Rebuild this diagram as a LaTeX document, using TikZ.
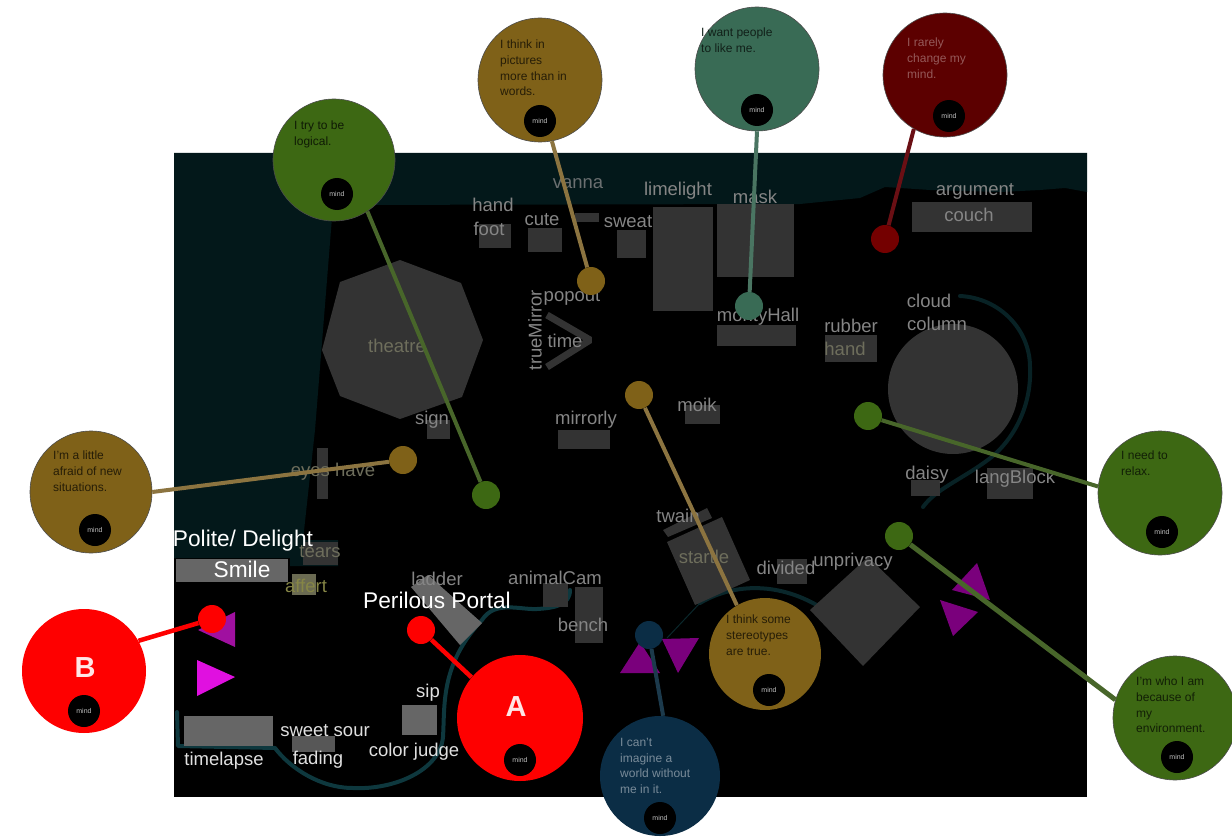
\documentclass[tikz,border=0pt]{standalone}
\usepackage{fontspec}
\setmainfont{Liberation Sans}
\definecolor{tealbg}{HTML}{03181A}
\definecolor{boxd}{HTML}{333333}
\definecolor{boxm}{HTML}{666666}
\definecolor{lab}{HTML}{858585}
\definecolor{labd}{HTML}{6E6E5C}
\definecolor{curvec}{HTML}{0E383E}
\definecolor{gold}{HTML}{7F6118}
\definecolor{goldl}{HTML}{8C7440}
\definecolor{grn}{HTML}{3D6813}
\definecolor{grnl}{HTML}{48662A}
\definecolor{sea}{HTML}{396B55}
\definecolor{seal}{HTML}{4A7562}
\definecolor{wine}{HTML}{5C0000}
\definecolor{winel}{HTML}{6A0F14}
\definecolor{navy}{HTML}{0B2D45}
\definecolor{navyl}{HTML}{1C3A4C}
\definecolor{rd}{HTML}{FE0000}
\definecolor{purp}{HTML}{7A007C}
\definecolor{purpb}{HTML}{A010A0}
\definecolor{magen}{HTML}{E010E0}
\tikzset{
 box/.style={fill=boxd,draw=none},
 boxmid/.style={fill=boxm,draw=none},
 lbl/.style={font=\fontsize{18.5}{20}\selectfont,text=lab,inner sep=0pt},
 lbld/.style={lbl,text=labd},
 lblw/.style={font=\fontsize{18.5}{20}\selectfont,text=black!12,inner sep=0pt},
 big/.style={font=\fontsize{22.7}{24}\selectfont,text=white,inner sep=0pt},
 bubble/.style={circle,minimum size=#1,inner sep=0pt,draw=black!70,line width=.6pt},
 dot/.style={circle,minimum size=28pt,inner sep=0pt},
 mindc/.style={circle,fill=black,minimum size=32pt,inner sep=0pt,text=white!75!black,font=\fontsize{7}{8}\selectfont},
 say/.style={anchor=north west,align=left,inner sep=0pt,font=\fontsize{12}{15.6}\selectfont},
 conn/.style={line width=#1},
 conn/.default=4pt,
 curve/.style={draw=curvec,line width=4pt,line cap=round,line join=round},
}
\begin{document}
\begin{tikzpicture}[x=1pt,y=-1pt]
\useasboundingbox (0,0) rectangle (1232,840);
\fill[white] (0,0) rectangle (1232,840);
\fill[black] (174,153) rectangle (1087,797);
\fill[tealbg] (174,153) -- (1087,153) -- (1087,192) -- (1065,188) -- (1040,190) -- (1000,192) -- (930,190) -- (885,187) -- (860,198) -- (800,204) -- (333,205) -- (315,430) -- (303,540) -- (338,540) -- (338,566) -- (290,566) -- (290,558) -- (174,558) -- cycle;
% curves
\draw[curve] (177,712) -- (178,746) -- (275,748) .. controls (290,768) and (320,788) .. (353,788) .. controls (395,790) and (440,770) .. (443,737) .. controls (445,705) and (440,665) .. (482,620) .. controls (495,600) and (520,610) .. (537,609) .. controls (555,608) and (570,605) .. (570,590);
\draw[curve,draw=curvec!70!black] (700,603) .. controls (730,585) and (775,580) .. (820,607);
\draw[draw=curvec!70!black,line width=1pt] (667,638) -- (700,603);
\draw[curve,draw=curvec!60!black] (960,296) .. controls (1000,298) and (1030,330) .. (1030,367) .. controls (1032,410) and (1010,445) .. (985,462) .. controls (960,480) and (935,490) .. (923,507);
% boxes
\fill[box] (479,224) rectangle (511,248);
\fill[box] (528,228) rectangle (562,252);
\fill[box] (575,213) rectangle (599,222);
\fill[box] (617,230) rectangle (646,258);
\fill[box] (653,207) rectangle (713,311);
\fill[box] (717,204) rectangle (794,277);
\fill[box] (717,325) rectangle (796,346);
\fill[box] (825,335) rectangle (877,362);
\fill[box] (912,202) rectangle (1032,232);
\fill[box] (685,405) rectangle (720,424);
\fill[box] (558,430) rectangle (610,449);
\fill[box] (427,420) rectangle (450,439);
\fill[box] (317,448) rectangle (328,499);
\fill[box] (400,260) -- (461,283) -- (483,340) -- (462,397) -- (400,419) -- (340,396) -- (322,350) -- (340,282) -- cycle;
\draw[boxd,line width=7pt,line join=bevel] (547,315) -- (590,340) -- (547,367);
\fill[box] (953,389) circle[radius=65];
\fill[box] (911,480) rectangle (940,496);
\fill[box] (987,468) rectangle (1033,499);
\fill[box] (663,530) -- (707,508) -- (712,518) -- (668,537) -- cycle;
\fill[box] (667,542) -- (722,517) -- (750,580) -- (695,605) -- cycle;
\fill[box] (777,559) rectangle (807,584);
\fill[box] (868,557) -- (920,607) -- (863,666) -- (810,610) -- cycle;
\fill[box] (303,542) rectangle (338,565);
\fill[boxm!80!olive] (292,574) rectangle (316,595);
\fill[boxmid] (176,559) rectangle (288,582);
\fill[boxmid] (411,587) -- (428,575) -- (482,623) -- (460,645) -- cycle;
\fill[box] (543,583) rectangle (568,607);
\fill[box] (575,587) rectangle (603,643);
\fill[boxm] (402,705) rectangle (437,735);
\fill[boxm] (184,716) rectangle (273,746);
\fill[boxm!85!black] (292,736) rectangle (335,752);
% triangles
\fill[purp] (620,673) -- (640,642) -- (660,673) -- cycle;
\fill[purp] (662,639) -- (699,638) -- (678,673) -- cycle;
\fill[purp] (977,563) -- (990,600) -- (952,590) -- cycle;
\fill[purp] (940,600) -- (978,612) -- (953,636) -- cycle;
\fill[purpb] (235,612) -- (235,647) -- (198,630) -- cycle;
\fill[magen] (197,660) -- (235,677) -- (197,696) -- cycle;
% labels
\node[lbl,text=lab!80!tealbg] (lvanna) at (578,184) {vanna};
\node[lbl] (lhand) at (493,205) {hand};
\node[lbl] (lfoot) at (489,229) {foot};
\node[lbl] (lcute) at (542,220) {cute};
\node[lbl] (lsweat) at (628,222) {sweat};
\node[lbl] (llime) at (678,191) {limelight};
\node[lbl] (lmask) at (755,197) {mask};
\node[lbl] (larg) at (975,191) {argument};
\node[lbl] (lcouch) at (969,215) {couch};
\node[lbl] (lpop) at (572,297) {popout};
\node[lbl,rotate=90] (ltrue) at (535,330) {trueMirror};
\node[lbl] (ltime) at (565,341) {time};
\node[lbld] (ltheatre) at (397,346) {theatre};
\node[lbl] (lsign) at (432,420) {sign};
\node[lbl] (lmirror) at (586,420) {mirrorly};
\node[lbl] (lmoik) at (697,405) {moik};
\node[lbl] (lrubber) at (851,326) {rubber};
\node[lbld] (lhand2) at (845,349) {hand};
\node[lbl] (lcloud) at (929,301) {cloud};
\node[lbl] (lcolumn) at (937,324) {column};
\node[lbl] (lmonty) at (758,317) {montyHall};
\node[lbl] (ldaisy) at (927,475) {daisy};
\node[lbl] (llang) at (1015,479) {langBlock};
\node[lbl] (ltwain) at (678,516) {twain};
\node[lbld] (lstartle) at (704,557) {startle};
\node[lbl] (ldivided) at (786,568) {divided};
\node[lbl] (lunpriv) at (853,562) {unprivacy};
\node[lbld] (leyes) at (333,472) {eyes have};
\node[lbld] (ltears) at (320,552) {tears};
\node[lbld,text=black!30!lab!75!yellow] (laffert) at (306,586) {affert};
\node[lbl] (lladder) at (437,579) {ladder};
\node[lbl] (lanimal) at (555,578) {animalCam};
\node[lbl] (lbench) at (583,625) {bench};
\node[lblw] (lsip) at (428,693) {sip};
\node[lblw] (lsweet) at (325,731) {sweet sour};
\node[lblw] (lfading) at (318,760) {fading};
\node[lblw] (ltimelapse) at (224,761) {timelapse};
\node[lblw] (lcolor) at (414,752) {color judge};
\node[big] (lpolite) at (243,541) {Polite/ Delight};
\node[big] (lsmile) at (242,569) {Smile};
\node[big] (lperil) at (437,600) {Perilous Portal};
% bubbles and dots
\node[bubble=122pt,fill=grn] (bLogic) at (334,160) {};
\node[bubble=124pt,fill=gold] (bPict) at (540,80) {};
\node[bubble=124pt,fill=sea] (bLike) at (757,69) {};
\node[bubble=124pt,fill=wine] (bRare) at (945,75) {};
\node[bubble=122pt,fill=gold] (bAfraid) at (91,492) {};
\node[bubble=124pt,fill=grn] (bRelax) at (1160,493) {};
\node[bubble=124pt,fill=grn] (bEnv) at (1175,718) {};
\node[bubble=112pt,fill=gold,draw=none] (bStereo) at (765,654) {};
\node[bubble=120pt,fill=navy,draw=none] (bWorld) at (660,776) {};
\node[bubble=126pt,fill=rd,draw=none] (bA) at (520,718) {};
\node[bubble=124pt,fill=rd,draw=none] (bB) at (84,671) {};
\node[dot,fill=grn] (dLogic) at (486,495) {};
\node[dot,fill=gold] (dPict) at (591,281) {};
\node[dot,fill=sea] (dLike) at (749,306) {};
\node[dot,fill=wine!85!red] (dRare) at (885,239) {};
\node[dot,fill=gold] (dAfraid) at (403,460) {};
\node[dot,fill=grn] (dRelax) at (868,416) {};
\node[dot,fill=grn] (dEnv) at (899,536) {};
\node[dot,fill=gold] (dStereo) at (639,395) {};
\node[dot,fill=navy] (dWorld) at (649,635) {};
\node[dot,fill=rd] (dA) at (421,630) {};
\node[dot,fill=rd] (dB) at (212,619) {};
% connectors
\draw[conn,grnl] (dLogic) -- (bLogic.-57);
\draw[conn,goldl] (dPict) -- (bPict.-79);
\draw[conn,seal] (dLike) -- (bLike.-90);
\draw[conn,winel] (dRare) -- (bRare.-120);
\draw[conn,goldl] (dAfraid) -- (bAfraid.0);
\draw[conn,grnl] (dRelax) -- (bRelax.174);
\draw[conn=5pt,grnl] (dEnv) -- (bEnv.163);
\draw[conn,goldl] (dStereo) -- (bStereo.120);
\draw[conn,navyl] (dWorld) -- (bWorld.87);
\draw[conn=4.5pt,rd] (dA) -- (bA.140);
\draw[conn=4.5pt,rd] (dB) -- (bB.29);
% bubble texts
\node[say,text=black!75!grn] (tLogic) at (294,121) {I try to be\\logical.};
\node[say,text=black!70!gold] (tPict) at (500,40) {I think in\\pictures\\more than in\\words.};
\node[say,text=black!70!sea] (tLike) at (701,28) {I want people\\to like me.};
\node[say,text=white!35!wine] (tRare) at (907,38) {I rarely\\change my\\mind.};
\node[say,text=black!70!gold] (tAfraid) at (53,451) {I'm a little\\afraid of new\\situations.};
\node[say,text=black!70!grn] (tRelax) at (1121,451) {I need to\\relax.};
\node[say,text=black!70!grn] (tEnv) at (1136,677) {I'm who I am\\because of\\my\\environment.};
\node[say,text=black!70!gold] (tStereo) at (726,615) {I think some\\stereotypes\\are true.};
\node[say,text=white!45!navy] (tWorld) at (620,738) {I can't\\imagine a\\world without\\me in it.};
\node[inner sep=0pt,text=white!90!red,font=\bfseries\fontsize{29}{30}\selectfont] (tA) at (516,707) {A};
\node[inner sep=0pt,text=white!90!red,font=\bfseries\fontsize{29}{30}\selectfont] (tB) at (85,668) {B};
% mind buttons
\node[mindc] (m1) at (337,194) {mind};
\node[mindc] (m2) at (540,121) {mind};
\node[mindc] (m3) at (757,110) {mind};
\node[mindc] (m4) at (949,116) {mind};
\node[mindc] (m5) at (95,530) {mind};
\node[mindc] (m6) at (1162,532) {mind};
\node[mindc] (m7) at (1177,757) {mind};
\node[mindc] (m8) at (769,690) {mind};
\node[mindc] (m9) at (660,818) {mind};
\node[mindc] (m10) at (520,760) {mind};
\node[mindc] (m11) at (84,711) {mind};
\end{tikzpicture}
\end{document}
